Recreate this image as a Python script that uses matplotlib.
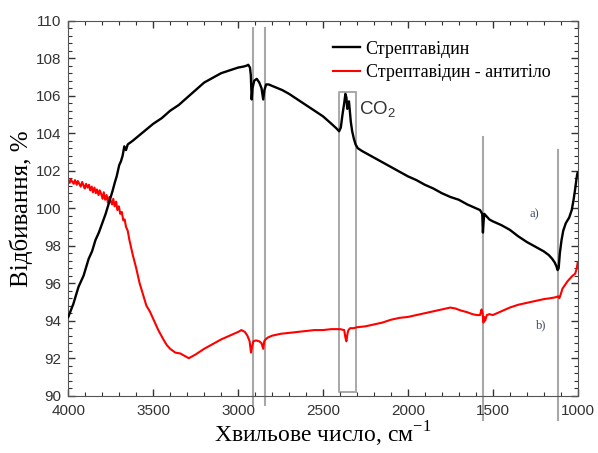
import numpy as np
import matplotlib.pyplot as plt
from matplotlib.ticker import MultipleLocator, AutoMinorLocator

plt.rcParams['mathtext.fontset'] = 'custom'
plt.rcParams['mathtext.rm'] = 'Liberation Serif'
plt.rcParams['mathtext.sf'] = 'Liberation Sans'

# Стрептавідин (a)
wn_a = [4000, 3970, 3940, 3910, 3880, 3860, 3840, 3820, 3800, 3780, 3760, 3740,
        3725, 3715, 3700, 3690, 3680, 3670, 3660, 3650, 3620, 3580, 3540, 3500,
        3450, 3400, 3350, 3300, 3250, 3200, 3150, 3100, 3050, 3000, 2970, 2950,
        2940, 2930, 2925, 2920, 2915, 2905, 2890, 2875, 2862, 2852, 2845, 2835,
        2820, 2780, 2740, 2700, 2650, 2600, 2550, 2500, 2450, 2420, 2405, 2395,
        2385, 2375, 2368, 2362, 2357, 2352, 2347, 2342, 2336, 2328, 2318, 2308,
        2295, 2270, 2240, 2200, 2150, 2100, 2050, 2000, 1950, 1900, 1850, 1800,
        1750, 1700, 1650, 1600, 1575, 1562, 1558, 1554, 1550, 1540, 1520, 1500,
        1450, 1400, 1350, 1300, 1250, 1200, 1170, 1150, 1135, 1125, 1118, 1112,
        1105, 1095, 1085, 1070, 1050, 1035, 1025, 1015, 1008, 1003, 1000]
tr_a = [94.2, 94.9, 95.8, 96.4, 97.3, 97.7, 98.3, 98.7, 99.2, 99.7, 100.3, 100.9,
        101.4, 101.7, 102.3, 102.5, 102.8, 103.3, 103.1, 103.4, 103.6, 103.9, 104.2, 104.5,
        104.8, 105.2, 105.5, 105.9, 106.3, 106.7, 106.95, 107.2, 107.35, 107.5, 107.55, 107.6,
        107.65, 107.5, 107.1, 105.8, 106.4, 106.8, 106.9, 106.7, 106.4, 105.8, 106.3, 106.6,
        106.6, 106.45, 106.3, 106.1, 105.8, 105.5, 105.2, 104.9, 104.5, 104.25, 104.1, 104.3,
        105.0, 105.6, 106.1, 105.9, 105.3, 105.6, 105.7, 105.2, 104.6, 104.1, 103.7, 103.4,
        103.2, 103.05, 102.9, 102.7, 102.45, 102.2, 101.95, 101.7, 101.5, 101.25, 101.05, 100.8,
        100.6, 100.45, 100.2, 100.0, 99.9, 99.7, 98.7, 99.3, 99.7, 99.6, 99.4, 99.3,
        99.1, 98.85, 98.5, 98.2, 97.95, 97.7, 97.5, 97.3, 97.1, 96.9, 96.7, 96.8,
        97.6, 98.3, 98.8, 99.2, 99.5, 99.9, 100.4, 101.0, 101.5, 101.8, 101.9]

# Стрептавідин - антитіло (b)
wn_b = [4000, 3992, 3985, 3976, 3968, 3961, 3950, 3944, 3935, 3927, 3918, 3910,
        3903, 3895, 3886, 3878, 3871, 3862, 3855, 3846, 3838, 3831, 3822, 3815,
        3806, 3798, 3791, 3783, 3774, 3767, 3758, 3751, 3742, 3735, 3727, 3718,
        3711, 3702, 3694, 3685, 3676, 3668, 3660, 3650,
        3640, 3620, 3600, 3580, 3560, 3540, 3520, 3500, 3470, 3440, 3420, 3400,
        3370, 3340, 3310, 3290, 3270, 3250, 3200, 3150, 3100, 3050, 3000, 2980,
        2960, 2945, 2932, 2924, 2918, 2910, 2895, 2875, 2862, 2852, 2846, 2838,
        2825, 2800, 2750, 2700, 2650, 2600, 2550, 2500, 2450, 2400, 2375, 2368,
        2362, 2356, 2350, 2340, 2320, 2300, 2250, 2200, 2150, 2100, 2050, 2000,
        1950, 1900, 1850, 1800, 1750, 1720, 1690, 1650, 1620, 1595, 1575, 1566,
        1560, 1555, 1550, 1545, 1535, 1520, 1500, 1450, 1400, 1350, 1300, 1250,
        1200, 1160, 1130, 1115, 1108, 1100, 1090, 1075, 1060, 1045, 1030, 1015,
        1005, 1000]
tr_b = [101.5, 101.35, 101.55, 101.4, 101.3, 101.5, 101.25, 101.45, 101.3, 101.15, 101.4, 101.2,
        101.05, 101.3, 101.1, 101.25, 100.95, 101.15, 100.85, 101.1, 100.8, 101.0, 100.7, 100.95,
        100.75, 100.5, 100.85, 100.45, 100.7, 100.3, 100.6, 100.4, 100.2, 100.5, 100.1, 100.35,
        99.9, 100.1, 99.7, 99.8, 99.35, 99.4, 99.0, 98.8,
        98.3, 97.5, 96.8, 96.0, 95.4, 94.8, 94.5, 94.1, 93.5, 93.0, 92.7, 92.5,
        92.3, 92.25, 92.1, 92.0, 92.1, 92.2, 92.5, 92.75, 93.0, 93.2, 93.4, 93.5,
        93.4, 93.2, 92.9, 92.3, 92.6, 92.9, 92.95, 92.9, 92.8, 92.5, 92.9, 93.0,
        93.1, 93.2, 93.3, 93.35, 93.4, 93.45, 93.5, 93.5, 93.55, 93.55, 93.5, 93.1,
        92.9, 93.3, 93.5, 93.6, 93.6, 93.65, 93.7, 93.8, 93.9, 94.05, 94.15, 94.2,
        94.3, 94.4, 94.5, 94.6, 94.7, 94.65, 94.55, 94.45, 94.35, 94.3, 94.3, 94.6,
        94.4, 93.9, 94.2, 94.0, 94.3, 94.35, 94.3, 94.5, 94.7, 94.85, 94.95, 95.05,
        95.15, 95.2, 95.25, 95.3, 95.2, 95.4, 95.7, 95.9, 96.1, 96.25, 96.4, 96.5,
        96.8, 97.1]

# reference lines and the CO2 box
vlines = [(2914, 109.6, 89.5), (2843, 109.6, 89.5), (1560, 103.8, 88.7), (1118, 103.1, 88.7)]
co2_box = (2303, 2406, 90.2, 106.2)

fig = plt.figure(figsize=(5.98, 4.53), dpi=100)
ax = fig.add_axes([0.1142, 0.1265, 0.8518, 0.8278])

for x, top, bottom in vlines:
    ax.plot([x, x], [bottom, top], color='#a8a8a8', lw=1.5, clip_on=False, zorder=1)
x0, x1, y0, y1 = co2_box
ax.plot([x0, x1, x1, x0, x0], [y0, y0, y1, y1, y0], color='#a8a8a8', lw=1.4, zorder=1)

ax.plot(wn_a, tr_a, color='black', lw=1.7, label='Стрептавідин', zorder=3)
ax.plot(wn_b, tr_b, color='red', lw=1.5, label='Стрептавідин - антитіло', zorder=2)

ax.set_xlim(4000, 1000)
ax.set_ylim(90, 110)
ax.xaxis.set_major_locator(MultipleLocator(500))
ax.xaxis.set_minor_locator(MultipleLocator(100))
ax.yaxis.set_major_locator(MultipleLocator(2))
ax.yaxis.set_minor_locator(AutoMinorLocator(5))
ax.tick_params(which='both', direction='in', top=True, right=True, colors='#333333',
               labelsize=11, labelfontfamily='Liberation Sans')
ax.tick_params(axis='x', which='major', pad=6)
ax.tick_params(axis='y', which='major', pad=5)
ax.tick_params(which='major', length=5, width=1)
ax.tick_params(which='minor', length=3, width=0.8)
for s in ax.spines.values():
    s.set_color('#555555')

ax.set_xlabel('Хвильове число, см$^{\\mathrm{-1}}$', family='Liberation Serif', fontsize=17, labelpad=1)
ax.set_ylabel('Відбивання, %', family='Liberation Serif', fontsize=18, labelpad=2)

ax.text(2290, 105.0, 'CO$_\\mathsf{2}$', family='Liberation Sans', fontsize=13.5, color='#333333')
ax.text(1281, 99.7, 'a)', family='Liberation Serif', fontsize=9, color='#404a60', va='center')
ax.text(1246, 93.75, 'b)', family='Liberation Serif', fontsize=9, color='#404a60', va='center')

ax.legend(loc='upper left', bbox_to_anchor=(0.488, 0.99), frameon=False,
          prop={'family': 'Liberation Serif', 'size': 13}, handlelength=1.5,
          handletextpad=0.3, labelspacing=0.35)

fig.savefig('out.png', dpi=100)
